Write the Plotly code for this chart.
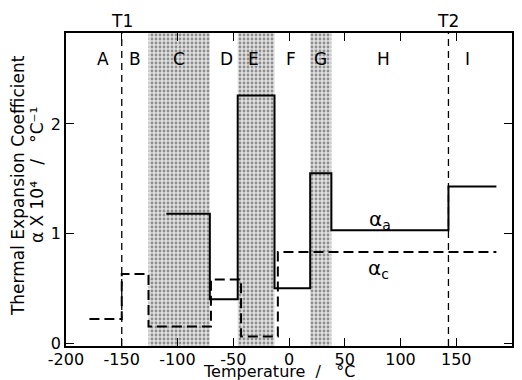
import plotly.graph_objects as go

# alpha_a (solid) step data: value holds from x[i] to x[i+1]
a_x = [-110, -71, -46, -13, 19, 38, 143, 186]
a_y = [1.18, 0.40, 2.26, 0.50, 1.55, 1.03, 1.43, 1.43]

# alpha_c (dashed) step data
c_x = [-179, -150, -126, -70, -43, -10, 186]
c_y = [0.22, 0.63, 0.15, 0.58, 0.06, 0.83, 0.83]

# shaded regions (C, E, G)
shade_start = [-126, -46, 19]
shade_end = [-71, -13, 38]

# transition temperatures
t_names = ["T1", "T2"]
t_vals = [-150, 143]

# region letters
reg_names = ["A", "B", "C", "D", "E", "F", "G", "H", "I"]
reg_x = [-167, -138, -99, -56, -32, 2, 28, 85, 160]

x_ticks = [-200, -150, -100, -50, 0, 50, 100, 150, 200]
x_ticktext = ["-200", "-150", "-100", "-50", "0", "50", "100", "150", "200"]
y_ticks = [0, 1, 2]

Y_MIN, Y_MAX = -0.027, 2.83

FONT = "DejaVu Sans"
nb = "\u00a0"

fig = go.Figure()

# shaded (stippled) regions as full-height bars
fig.add_trace(go.Bar(
    x=[(s + e) / 2 for s, e in zip(shade_start, shade_end)],
    width=[e - s for s, e in zip(shade_start, shade_end)],
    y=[Y_MAX - Y_MIN] * len(shade_start), base=[Y_MIN] * len(shade_start),
    marker=dict(color="#dcdcdc", line=dict(width=0),
                pattern=dict(shape=".", fgcolor="#3a3a3a", bgcolor="#e0e0e0", size=4, solidity=0.38)),
    showlegend=False, hoverinfo="skip"))

fig.add_trace(go.Scatter(x=a_x, y=a_y, mode="lines", line=dict(shape="hv", color="black", width=2),
                         showlegend=False, hoverinfo="skip"))
fig.add_trace(go.Scatter(x=c_x, y=c_y, mode="lines",
                         line=dict(shape="hv", color="black", width=2, dash="10px,5px"),
                         showlegend=False, hoverinfo="skip"))

shapes = []
for t in t_vals:
    shapes.append(dict(type="line", xref="x", yref="paper", x0=t, x1=t, y0=0, y1=1,
                       line=dict(color="black", width=1.3, dash="7px,5px")))

annotations = []
for n, x in zip(reg_names, reg_x):
    annotations.append(dict(x=x, y=0.917, xref="x", yref="paper", text=n, showarrow=False,
                            xanchor="center", yanchor="middle",
                            font=dict(family=FONT, size=17, color="black")))
for n, x in zip(t_names, t_vals):
    annotations.append(dict(x=x, y=1.039, xref="x", yref="paper", text=n, showarrow=False,
                            xanchor="center", yanchor="middle",
                            font=dict(family=FONT, size=17, color="black")))
annotations.append(dict(x=82, y=1.12, xref="x", yref="y", text="α<sub>a</sub>", showarrow=False,
                        xanchor="center", yanchor="middle",
                        font=dict(family=FONT, size=20, color="black")))
annotations.append(dict(x=80, y=0.68, xref="x", yref="y", text="α<sub>c</sub>", showarrow=False,
                        xanchor="center", yanchor="middle",
                        font=dict(family=FONT, size=20, color="black")))
# y-axis title, two rotated lines
annotations.append(dict(x=-0.1076, y=0.511, xref="paper", yref="paper", textangle=-90,
                        text="Thermal Expansion Coefficient",
                        showarrow=False, xanchor="center", yanchor="middle",
                        font=dict(family=FONT, size=17, color="black")))
annotations.append(dict(x=-0.065, y=0.546, xref="paper", yref="paper", textangle=-90,
                        text="α" + nb + "X" + nb + "10⁴" + nb * 3 + "/" + nb * 3 + "°C⁻¹",
                        showarrow=False, xanchor="center", yanchor="middle",
                        font=dict(family=FONT, size=17, color="black")))
# x-axis title
annotations.append(dict(x=0.4765, y=-0.082, xref="paper", yref="paper",
                        text="Temperature" + nb * 2 + "/" + nb * 3 + "°C", showarrow=False,
                        xanchor="center", yanchor="middle",
                        font=dict(family=FONT, size=16, color="black")))

fig.update_layout(
    width=522, height=380,
    margin=dict(l=66, r=10, t=33, b=34, autoexpand=False),
    paper_bgcolor="white", plot_bgcolor="white",
    shapes=shapes, annotations=annotations,
    xaxis=dict(range=[-200, 200], tickvals=x_ticks, ticktext=x_ticktext, ticks="inside", ticklen=8,
               tickwidth=1.3, tickcolor="black", showgrid=False, zeroline=False, automargin=False,
               showline=True, linecolor="black", linewidth=1.5, mirror="allticks",
               ticklabelstandoff=-2,
               tickfont=dict(family=FONT, size=16, color="black")),
    yaxis=dict(range=[Y_MIN, Y_MAX], tickvals=y_ticks, ticks="inside", ticklen=8,
               tickwidth=1.3, tickcolor="black", showgrid=False, zeroline=False, automargin=False,
               showline=True, linecolor="black", linewidth=1.5, mirror="allticks",
               tickfont=dict(family=FONT, size=16, color="black")),
)

fig.write_html("out.html", config={"displayModeBar": False},
               post_script="document.body.style.margin='0';document.body.style.overflow='hidden';")
